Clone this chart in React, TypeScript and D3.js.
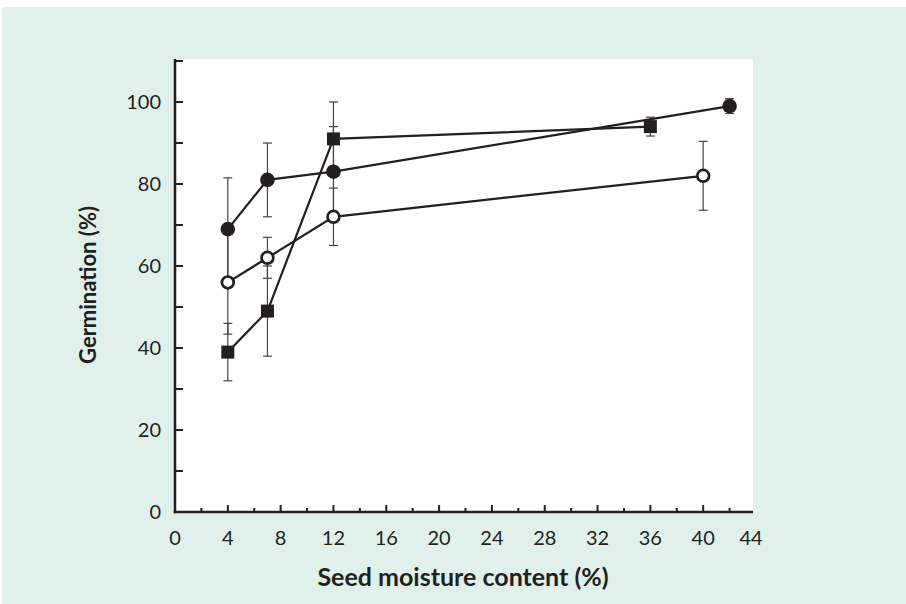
import React from "react";
import * as d3 from "d3";

const W = 906;
const H = 604;

const xTickValues = [0, 4, 8, 12, 16, 20, 24, 28, 32, 36, 40, 44];
const yTickValues = [0, 20, 40, 60, 80, 100];

// Filled circles
const filledX = [4, 7, 12, 42];
const filledY = [69, 81, 83, 99];
const filledErr = [12.5, 9, 11, 1.8];

// Open circles
const openX = [4, 7, 12, 40];
const openY = [56, 62, 72, 82];
const openErr = [12.6, 5, 7, 8.4];

// Filled squares
const squareX = [4, 7, 12, 36];
const squareY = [39, 49, 91, 94];
const squareErr = [7, 11, 9, 2.3];

const INK = "#231f20";
const BG = "#e0f1eb";
const FONT = "Lato, 'Open Sans', sans-serif";

export default function App() {
  const x = d3.scaleLinear().domain([0, 44]).range([175, 756]);
  const y = d3.scaleLinear().domain([0, 100]).range([512, 102]);
  const yTop = 59;
  const xEnd = 753;

  const line = d3
    .line<[number, number]>()
    .x((d) => x(d[0]))
    .y((d) => y(d[1]));

  const zip = (xs: number[], ys: number[]) =>
    xs.map((v, i) => [v, ys[i]] as [number, number]);

  const series = [
    { xs: squareX, ys: squareY, es: squareErr, kind: "square" },
    { xs: filledX, ys: filledY, es: filledErr, kind: "filled" },
    { xs: openX, ys: openY, es: openErr, kind: "open" },
  ];

  const minorX = d3.range(0, 43, 2);
  const yMinor = d3.range(0, 111, 10);

  return (
    <svg width={W} height={H} style={{ display: "block", position: "absolute", left: 0, top: 0 }}>
      <rect x={0} y={0} width={W} height={H} fill="#ffffff" />
      <rect x={2} y={7} width={W - 2} height={H - 7} fill={BG} />
      <rect x={x(0)} y={yTop} width={xEnd - x(0)} height={y(0) - yTop} fill="#ffffff" />

      {/* error bars */}
      {series.map((s, si) =>
        s.xs.map((xv, i) => {
          const cx = x(xv);
          const t = y(s.ys[i] + s.es[i]);
          const b = y(s.ys[i] - s.es[i]);
          return (
            <g key={`e${si}-${i}`} stroke="#444" strokeWidth={1.2}>
              <line x1={cx} x2={cx} y1={t} y2={b} />
              <line x1={cx - 4.5} x2={cx + 4.5} y1={t} y2={t} />
              <line x1={cx - 4.5} x2={cx + 4.5} y1={b} y2={b} />
            </g>
          );
        })
      )}

      {/* lines */}
      {series.map((s, si) => (
        <path
          key={`l${si}`}
          d={line(zip(s.xs, s.ys)) || ""}
          fill="none"
          stroke={INK}
          strokeWidth={2.2}
        />
      ))}

      {/* markers */}
      {series.map((s, si) =>
        s.xs.map((xv, i) => {
          const cx = x(xv);
          const cy = y(s.ys[i]);
          if (s.kind === "square")
            return <rect key={`m${si}-${i}`} x={cx - 6.5} y={cy - 6.5} width={13} height={13} fill={INK} />;
          if (s.kind === "filled")
            return <circle key={`m${si}-${i}`} cx={cx} cy={cy} r={7.3} fill={INK} />;
          return (
            <circle key={`m${si}-${i}`} cx={cx} cy={cy} r={5.9} fill="#ffffff" stroke={INK} strokeWidth={2.7} />
          );
        })
      )}

      {/* axes */}
      <g stroke={INK} strokeWidth={2.5}>
        <line x1={x(0)} x2={x(0)} y1={yTop} y2={y(0) + 1.25} />
        <line x1={x(0) - 1.25} x2={xEnd} y1={y(0)} y2={y(0)} />
      </g>
      <g stroke={INK} strokeWidth={2}>
        {yMinor.map((v) => (
          <line key={`yt${v}`} x1={x(0)} x2={x(0) + 8} y1={y(v)} y2={y(v)} />
        ))}
        {minorX.map((v) => (
          <line
            key={`xt${v}`}
            x1={x(v)}
            x2={x(v)}
            y1={y(0)}
            y2={y(0) - (v % 4 === 0 ? 7 : 4)}
          />
        ))}
      </g>

      {/* tick labels */}
      <g fontFamily={FONT} fontSize={20} fill={INK}>
        {yTickValues.map((v) => (
          <text key={`yl${v}`} x={161} y={y(v)} dy="0.35em" textAnchor="end">
            {v}
          </text>
        ))}
        {xTickValues.map((v) => (
          <text key={`xl${v}`} x={x(v) - (v === 44 ? 5 : 0)} y={545} textAnchor="middle">
            {v}
          </text>
        ))}
      </g>

      {/* titles */}
      <text
        x={463}
        y={586}
        textAnchor="middle"
        fontFamily={FONT}
        fontWeight="bold"
        fontSize={25}
        fill={INK}
      >
        Seed moisture content (%)
      </text>
      <text
        transform={`translate(96,285) rotate(-90)`}
        textAnchor="middle"
        fontFamily={FONT}
        fontWeight="bold"
        fontSize={22}
        fill={INK}
      >
        Germination (%)
      </text>
    </svg>
  );
}
